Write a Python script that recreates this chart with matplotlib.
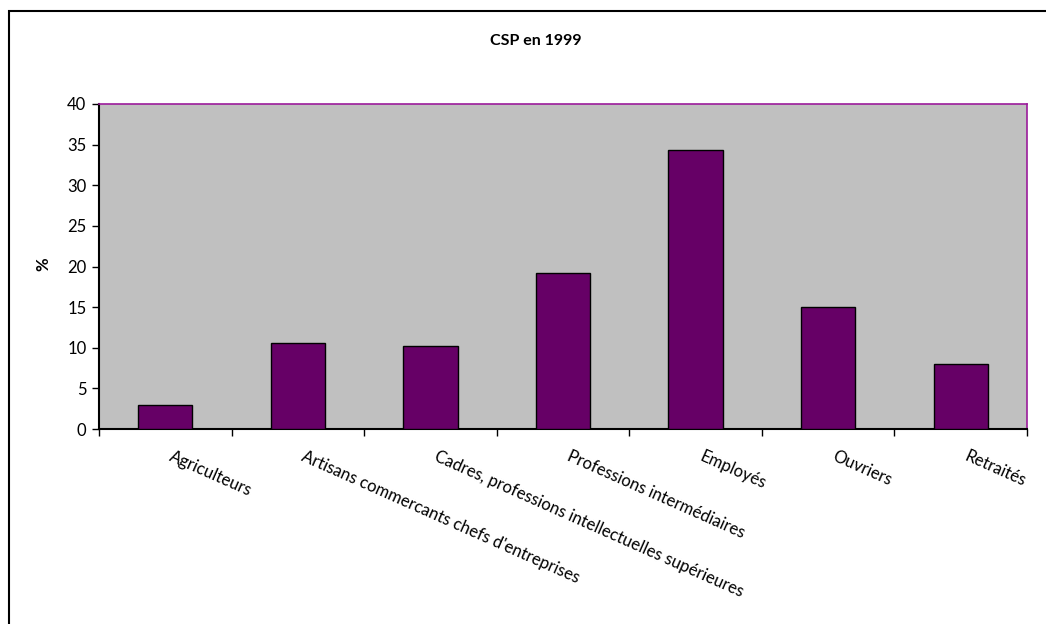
import matplotlib
matplotlib.use("Agg")
import matplotlib.pyplot as plt
from matplotlib.patches import Rectangle
from matplotlib.transforms import ScaledTranslation
import numpy as np

categories = [
    "Agriculteurs",
    "Artisans commercants chefs d'entreprises",
    "Cadres, professions intellectuelles supérieures",
    "Professions intermédiaires",
    "Employés",
    "Ouvriers",
    "Retraités",
]
values = [3.0, 10.6, 10.2, 19.2, 34.3, 15.0, 8.0]
title = "CSP en 1999"
ylabel = "%"
yticks = [0, 5, 10, 15, 20, 25, 30, 35, 40]

plt.rcParams["font.family"] = ["Lato", "DejaVu Sans"]

fig = plt.figure(figsize=(10.46, 6.24), dpi=100)
fig.patch.set_facecolor("white")

# outer chart frame (runs off the right and bottom edges)
fig.patches.append(Rectangle((9 / 1046, -0.05), 1.2, 1 - 11 / 624 + 0.05,
                             transform=fig.transFigure, fill=False,
                             edgecolor="black", linewidth=1.5, zorder=0))

ax = fig.add_axes([99 / 1046, 1 - 429 / 624, (1027 - 99) / 1046, (429 - 104) / 624])
ax.set_facecolor("#C0C0C0")

x = np.arange(len(categories))
ax.bar(x, values, width=0.41, color="#660066", edgecolor="black", linewidth=1.0, zorder=3)

ax.set_xlim(-0.5, len(categories) - 0.5)
ax.set_ylim(0, 40)
ax.set_yticks(yticks)
ax.set_yticklabels([str(t) for t in yticks], fontsize=12)
ax.tick_params(axis="y", direction="out", length=5, width=1, pad=4)

ax.set_xticks(x)
ax.set_xticklabels(categories, rotation=-24, ha="left", va="top",
                   rotation_mode="anchor", fontsize=12)
ax.set_xticks(np.arange(len(categories) + 1) - 0.5, minor=True)
ax.tick_params(axis="x", which="major", length=0, pad=14)
ax.tick_params(axis="x", which="minor", direction="out", length=5, width=1)

# nudge the slanted category labels to the right of the bar centres
shift = ScaledTranslation(8 / 100, 0, fig.dpi_scale_trans)
for lbl in ax.get_xticklabels():
    lbl.set_transform(lbl.get_transform() + shift)

for side in ("left", "bottom"):
    ax.spines[side].set_color("black")
    ax.spines[side].set_linewidth(1.5)
for side in ("top", "right"):
    ax.spines[side].set_color("#9B1B9B")
    ax.spines[side].set_linewidth(1.2)

fig.text(536 / 1046, 1 - 41 / 624, title, ha="center", va="center",
         fontsize=11.5, fontweight="bold")
fig.text(43 / 1046, 1 - 264 / 624, ylabel, ha="center", va="center",
         rotation=90, fontsize=12, fontweight="bold")

fig.savefig("out.png", dpi=100)
